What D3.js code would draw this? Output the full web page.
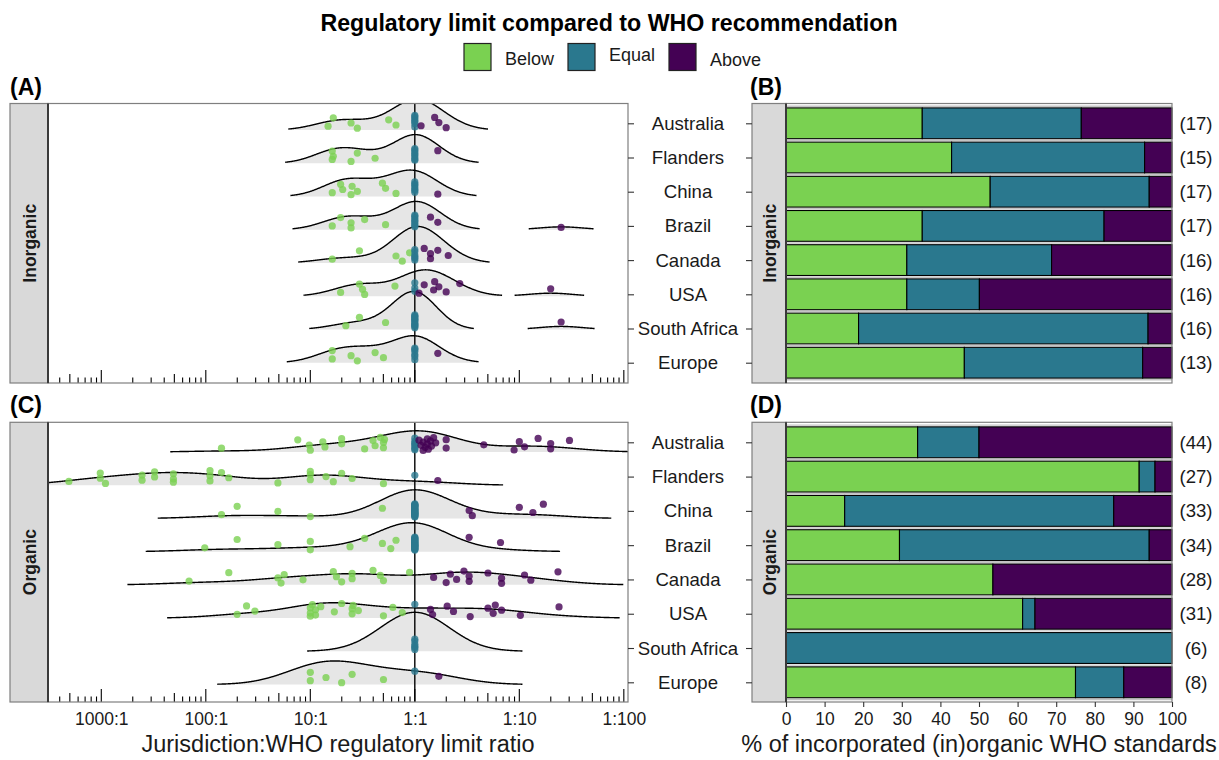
<!DOCTYPE html>
<html>
<head>
<meta charset="utf-8">
<script src="https://cdn.jsdelivr.net/npm/d3@7"></script>
<style>
  body { margin: 0; background: #fff; }
  svg { display: block; font-family: "Liberation Sans", Arial, sans-serif; }
</style>
</head>
<body>
<svg id="chart" width="1219" height="760"></svg>
<script>
// ---- data -----------------------------------------------------------
var countries = ["Australia", "Flanders", "China", "Brazil", "Canada", "USA", "South Africa", "Europe"]
var compareLevels = ["Below", "Equal", "Above"]

var ratioTicks = [1e-3, 1e-2, 1e-1, 1, 10, 100]
var ratioTickLabels = ["1000:1", "100:1", "10:1", "1:1", "1:10", "1:100"]
var pctTicks = [0, 10, 20, 30, 40, 50, 60, 70, 80, 90, 100]

// (B) inorganic standards, % of standards per jurisdiction
var inorgPctBelow = [35.3, 42.9, 52.9, 35.3, 31.3, 31.3, 18.8, 46.2]
var inorgPctEqual = [41.2, 50.0, 41.2, 47.1, 37.5, 18.8, 75.0, 46.2]
var inorgPctAbove = [23.5, 7.1, 5.9, 17.6, 31.2, 49.9, 6.2, 7.6]
var inorgN = [17, 15, 17, 17, 16, 16, 16, 13]

// (D) organic standards
var orgPctBelow = [34.1, 91.5, 15.2, 29.4, 53.6, 61.3, 0, 75.0]
var orgPctEqual = [15.9, 4.1, 69.7, 64.7, 0, 3.2, 100, 12.5]
var orgPctAbove = [50.0, 4.4, 15.1, 5.9, 46.4, 35.5, 0, 12.5]
var orgN = [44, 27, 33, 34, 28, 31, 6, 8]

// (A) inorganic: log10 of jurisdiction:WHO ratio (left = stricter)
var inorgBelow = [
  [-0.83, -0.78, -0.61, -0.55, -0.25, -0.18],
  [-0.79, -0.79, -0.78, -0.61, -0.55, -0.38],
  [-0.79, -0.71, -0.69, -0.61, -0.60, -0.55, -0.31, -0.28, -0.18],
  [-0.79, -0.71, -0.61, -0.61, -0.48, -0.28],
  [-0.79, -0.53, -0.18, -0.12, -0.05],
  [-0.71, -0.53, -0.50, -0.48, -0.19],
  [-0.66, -0.53, -0.28],
  [-0.79, -0.79, -0.61, -0.55, -0.38, -0.30]
]
var inorgEqualCount = [7, 8, 7, 8, 6, 3, 12, 6]
var inorgAbove = [
  [0.06, 0.19, 0.23, 0.30],
  [0.22],
  [0.22],
  [0.15, 0.22, 1.40],
  [0.09, 0.15, 0.15, 0.22, 0.32],
  [0.04, 0.09, 0.18, 0.19, 0.23, 0.30, 0.43, 1.30],
  [1.40],
  [0.22]
]

// (C) organic
var orgBelow = [
  [-1.85, -1.12, -1.01, -1.00, -0.88, -0.86, -0.70, -0.70, -0.48, -0.40, -0.38, -0.33, -0.30, -0.30, -0.29],
  [-3.31, -3.01, -3.01, -2.96, -2.61, -2.61, -2.49, -2.49, -2.31, -2.31, -2.31, -1.96, -1.96, -1.96, -1.85,
   -1.78, -1.31, -1.00, -1.00, -1.00, -0.85, -0.78, -0.70, -0.60, -0.30],
  [-1.85, -1.70, -1.31, -1.00, -0.31],
  [-2.01, -1.70, -1.31, -1.00, -1.00, -0.62, -0.48, -0.31, -0.23, -0.18],
  [-2.16, -1.78, -1.31, -1.28, -1.25, -1.07, -0.78, -0.75, -0.70, -0.60, -0.60, -0.40, -0.33, -0.30, -0.05],
  [-1.70, -1.61, -1.53, -1.00, -1.00, -1.00, -0.98, -0.95, -0.95, -0.90, -0.77, -0.70, -0.60, -0.60, -0.59,
   -0.54, -0.30, -0.21, -0.12],
  [],
  [-1.00, -1.00, -0.85, -0.70, -0.60, -0.30]
]
var orgEqualCount = [7, 1, 23, 22, 0, 1, 6, 1]
var orgAbove = [
  [0.04, 0.06, 0.08, 0.08, 0.10, 0.12, 0.12, 0.13, 0.15, 0.16, 0.18, 0.20, 0.30, 0.30, 0.66, 0.95, 1.00, 1.05,
   1.18, 1.30, 1.30, 1.48],
  [0.22],
  [0.52, 0.55, 1.00, 1.13, 1.23],
  [0.52, 0.82],
  [0.18, 0.30, 0.34, 0.40, 0.47, 0.52, 0.52, 0.70, 0.83, 0.83, 1.05, 1.11, 1.37],
  [0.15, 0.17, 0.31, 0.37, 0.53, 0.70, 0.75, 0.77, 0.83, 1.01, 1.38],
  [],
  [0.23]
]

// ---- drawing --------------------------------------------------------
var levelColor = { Below: "#7AD151", Equal: "#2A788E", Above: "#440154" }
var frameColor = "#7f7f7f"
var textColor = "#1a1a1a"

var svg = d3.select("#chart")
svg.append("rect").attr("width", 1219).attr("height", 760).attr("fill", "#fff")

// title + legend
svg.append("text")
  .attr("x", 609).attr("y", 31)
  .attr("text-anchor", "middle")
  .attr("font-size", "23.2px").attr("font-weight", "bold").attr("fill", "#000")
  .text("Regulatory limit compared to WHO recommendation")

var legendX = [464, 568, 669]
var legendTextY = [64.5, 60.5, 65.5]
compareLevels.forEach(function(lev, i) {
  svg.append("rect")
    .attr("x", legendX[i]).attr("y", 43.5).attr("width", 27).attr("height", 27)
    .attr("fill", levelColor[lev]).attr("stroke", "#222").attr("stroke-width", 1.2)
  svg.append("text")
    .attr("x", legendX[i] + 41).attr("y", legendTextY[i])
    .attr("font-size", "18px").attr("fill", textColor)
    .text(lev)
})

var xRatio = d3.scaleLog()
  .domain([Math.pow(10, -3.51), Math.pow(10, 2.04)])
  .range([48, 628])
var xPct = d3.scaleLinear().domain([0, 100]).range([786, 1172])

function kde(values, bw, x) {
  if (!values.length) return 0
  var s = d3.sum(values, function(v) { return Math.exp(-0.5 * Math.pow((x - v) / bw, 2)) })
  return s / (values.length * bw * Math.sqrt(2 * Math.PI))
}

function jitter(i) {
  return (i * 0.6180339887 + 0.17) % 1
}

function drawStrip(x, top, bottom, w, label) {
  svg.append("rect")
    .attr("x", x).attr("y", top).attr("width", w).attr("height", bottom - top)
    .attr("fill", "#d9d9d9").attr("stroke", frameColor).attr("stroke-width", 1.2)
  svg.append("line")
    .attr("x1", x + w).attr("x2", x + w).attr("y1", top).attr("y2", bottom)
    .attr("stroke", "#3a3a3a").attr("stroke-width", 2)
  svg.append("text")
    .attr("transform", "translate(" + (x + w / 2 + 6.5) + "," + ((top + bottom) / 2) + ") rotate(-90)")
    .attr("text-anchor", "middle")
    .attr("font-size", "17.5px").attr("font-weight", "bold").attr("fill", textColor)
    .text(label)
}

var ridgePanels = [
  { tag: "(A)", strip: "Inorganic", top: 103.5, bottom: 383, ticks: [123.3, 362.7], bases: [130, 362.7],
    below: inorgBelow, equal: inorgEqualCount, above: inorgAbove, bw: 0.21, relMin: 0.025, maxH: 38 },
  { tag: "(C)", strip: "Organic", top: 422.3, bottom: 702, ticks: [442.3, 682.3], bases: [452, 684.5],
    below: orgBelow, equal: orgEqualCount, above: orgAbove, bw: 0.33, relMin: 0.0075, maxH: 39 }
]

ridgePanels.forEach(function(p, pi) {
  var yTick = d3.scalePoint().domain(countries).range(p.ticks)
  var yBase = d3.scalePoint().domain(countries).range(p.bases)

  svg.append("text")
    .attr("x", 10).attr("y", p.top - 9)
    .attr("font-size", "23px").attr("font-weight", "bold").attr("fill", "#000")
    .text(p.tag)

  var clipId = "clip" + pi
  svg.append("clipPath").attr("id", clipId)
    .append("rect").attr("x", 48).attr("y", p.top).attr("width", 580).attr("height", p.bottom - p.top)

  var g = svg.append("g").attr("clip-path", "url(#" + clipId + ")")

  var rows = countries.map(function(c, i) {
    var pts = []
    p.below[i].forEach(function(v) { pts.push({ v: v, level: "Below" }) })
    d3.range(p.equal[i]).forEach(function() { pts.push({ v: 0, level: "Equal" }) })
    p.above[i].forEach(function(v) { pts.push({ v: v, level: "Above" }) })
    return { country: c, pts: pts }
  })

  var grid = d3.range(-3.51, 2.045, 0.005)
  rows.forEach(function(r) {
    var vals = r.pts.map(function(d) { return d.v })
    r.dens = grid.map(function(x) { return [x, kde(vals, p.bw, x)] })
  })
  var top = d3.max(rows, function(r) { return d3.max(r.dens, function(d) { return d[1] }) })
  var k = p.maxH / top
  var cut = p.relMin * top

  rows.forEach(function(r) {
    var base = yBase(r.country)
    var segs = [], cur = []
    r.dens.forEach(function(d) {
      if (d[1] >= cut) cur.push(d)
      else { if (cur.length > 1) segs.push(cur); cur = [] }
    })
    if (cur.length > 1) segs.push(cur)

    var area = d3.area()
      .x(function(d) { return xRatio(Math.pow(10, d[0])) })
      .y0(base)
      .y1(function(d) { return base - d[1] * k })
    var line = d3.line()
      .x(function(d) { return xRatio(Math.pow(10, d[0])) })
      .y(function(d) { return base - d[1] * k })

    segs.forEach(function(s) {
      g.append("path").attr("d", area(s)).attr("fill", "#e6e6e6")
      g.append("path").attr("d", line(s)).attr("fill", "none")
        .attr("stroke", "#000").attr("stroke-width", 1.4)
    })
  })

  g.append("line")
    .attr("x1", xRatio(1)).attr("x2", xRatio(1))
    .attr("y1", p.top).attr("y2", p.bottom)
    .attr("stroke", "#000").attr("stroke-width", 1.4)

  rows.forEach(function(r) {
    var base = yBase(r.country)
    g.selectAll(null)
      .data(r.pts)
      .enter()
      .append("circle")
      .attr("cx", function(d) { return xRatio(Math.pow(10, d.v)) })
      .attr("cy", function(d, i) { return base - 1.5 - jitter(i) * 13.5 })
      .attr("r", 3.6)
      .attr("fill", function(d) { return levelColor[d.level] })
      .attr("fill-opacity", 0.8)
  })

  // log ticks inside the bottom edge
  var logTicks = []
  d3.range(-4, 3).forEach(function(e) {
    d3.range(1, 10).forEach(function(m) {
      var v = m * Math.pow(10, e)
      var xv = xRatio(v)
      if (xv >= 48 && xv <= 628) logTicks.push({ x: xv, len: m === 1 ? 13 : (m === 5 ? 9 : 5.5) })
    })
  })
  svg.selectAll(null)
    .data(logTicks)
    .enter()
    .append("line")
    .attr("x1", function(d) { return d.x }).attr("x2", function(d) { return d.x })
    .attr("y1", p.bottom).attr("y2", function(d) { return p.bottom - d.len })
    .attr("stroke", "#000").attr("stroke-width", 1.1)

  svg.append("rect")
    .attr("x", 48).attr("y", p.top).attr("width", 580).attr("height", p.bottom - p.top)
    .attr("fill", "none").attr("stroke", frameColor).attr("stroke-width", 1.2)
  drawStrip(10, p.top, p.bottom, 38, p.strip)

  var yAx = svg.append("g")
    .attr("transform", "translate(628,0)")
    .call(d3.axisRight(yTick).tickSize(6).tickFormat(""))
  yAx.select(".domain").remove()
  yAx.selectAll("line").attr("stroke", "#333").attr("stroke-width", 1.1)

  // jurisdiction names between the panel pairs
  svg.selectAll(null)
    .data(countries)
    .enter()
    .append("text")
    .attr("x", 688)
    .attr("y", function(d) { return yTick(d) + 6.5 })
    .attr("text-anchor", "middle")
    .attr("font-size", "18.6px").attr("fill", textColor)
    .text(function(d) { return d })

  if (pi === 1) {
    var xAx = svg.append("g")
      .attr("transform", "translate(0," + p.bottom + ")")
      .call(d3.axisBottom(xRatio).tickValues(ratioTicks)
        .tickFormat(function(d, i) { return ratioTickLabels[i] })
        .tickSize(0).tickPadding(11))
    xAx.select(".domain").remove()
    xAx.selectAll("text").attr("font-size", "17.5px").attr("fill", textColor)
      .attr("font-family", "Liberation Sans, Arial, sans-serif")

    svg.append("text")
      .attr("x", 338).attr("y", 752)
      .attr("text-anchor", "middle")
      .attr("font-size", "23.5px").attr("fill", textColor)
      .text("Jurisdiction:WHO regulatory limit ratio")
  }
})

var barPanels = [
  { tag: "(B)", strip: "Inorganic", top: 103.5, bottom: 383, ticks: [123.3, 362.7],
    below: inorgPctBelow, equal: inorgPctEqual, above: inorgPctAbove, n: inorgN },
  { tag: "(D)", strip: "Organic", top: 422.3, bottom: 702, ticks: [442.3, 682.3],
    below: orgPctBelow, equal: orgPctEqual, above: orgPctAbove, n: orgN }
]

barPanels.forEach(function(p, pi) {
  var step = (p.ticks[1] - p.ticks[0]) / (countries.length - 1)
  var yTick = d3.scalePoint().domain(countries).range(p.ticks)
  var yBand = d3.scaleBand().domain(countries)
    .range([p.ticks[0] - step / 2, p.ticks[1] + step / 2])
    .paddingInner(0.1).paddingOuter(0.05)

  svg.append("text")
    .attr("x", 750).attr("y", p.top - 9)
    .attr("font-size", "23px").attr("font-weight", "bold").attr("fill", "#000")
    .text(p.tag)

  var table = countries.map(function(c, i) {
    return { country: c, Below: p.below[i], Equal: p.equal[i], Above: p.above[i] }
  })
  var series = d3.stack().keys(compareLevels)(table)

  // faint separators between bars
  svg.selectAll(null)
    .data(d3.range(countries.length + 1))
    .enter()
    .append("line")
    .attr("x1", 786).attr("x2", 1172)
    .attr("y1", function(i) { return p.ticks[0] - step / 2 + i * step })
    .attr("y2", function(i) { return p.ticks[0] - step / 2 + i * step })
    .attr("stroke", "#c4c4c4").attr("stroke-width", 1.4)

  series.forEach(function(s) {
    svg.selectAll(null)
      .data(s.filter(function(d) { return d[1] - d[0] > 0.01 }))
      .enter()
      .append("rect")
      .attr("x", function(d) { return xPct(d[0]) })
      .attr("width", function(d) { return xPct(d[1]) - xPct(d[0]) })
      .attr("y", function(d) { return yBand(d.data.country) })
      .attr("height", yBand.bandwidth())
      .attr("fill", levelColor[s.key])
      .attr("stroke", "#000").attr("stroke-width", 1.1)
  })

  svg.append("rect")
    .attr("x", 786).attr("y", p.top).attr("width", 386).attr("height", p.bottom - p.top)
    .attr("fill", "none").attr("stroke", frameColor).attr("stroke-width", 1.2)
  drawStrip(752, p.top, p.bottom, 34, p.strip)

  var yAx = svg.append("g")
    .attr("transform", "translate(752,0)")
    .call(d3.axisLeft(yTick).tickSize(6).tickFormat(""))
  yAx.select(".domain").remove()
  yAx.selectAll("line").attr("stroke", "#333").attr("stroke-width", 1.1)

  svg.selectAll(null)
    .data(countries)
    .enter()
    .append("text")
    .attr("x", 1196)
    .attr("y", function(d) { return yTick(d) + 6.5 })
    .attr("text-anchor", "middle")
    .attr("font-size", "18.6px").attr("fill", textColor)
    .text(function(d, i) { return "(" + p.n[i] + ")" })

  if (pi === 1) {
    var xAx = svg.append("g")
      .attr("transform", "translate(0," + p.bottom + ")")
      .call(d3.axisBottom(xPct).tickValues(pctTicks).tickSize(5).tickPadding(6))
    xAx.select(".domain").remove()
    xAx.selectAll("line").attr("stroke", "#333").attr("stroke-width", 1.1)
    xAx.selectAll("text").attr("font-size", "17.5px").attr("fill", textColor)
      .attr("font-family", "Liberation Sans, Arial, sans-serif")

    svg.append("text")
      .attr("x", 979).attr("y", 752)
      .attr("text-anchor", "middle")
      .attr("font-size", "23.5px").attr("fill", textColor)
      .text("% of incorporated (in)organic WHO standards")
  }
})
</script>
</body>
</html>
